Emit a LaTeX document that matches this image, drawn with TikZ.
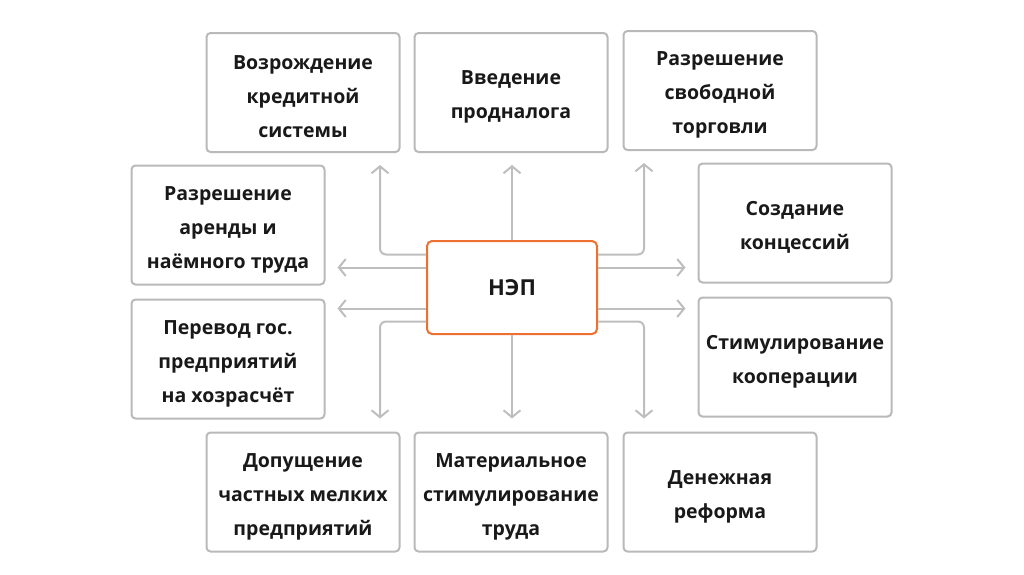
\documentclass[tikz,border=0pt]{standalone}
\usepackage{fontspec}
\setmainfont{Open Sans}
\usetikzlibrary{arrows.meta,positioning}
\definecolor{boxgray}{RGB}{185,185,185}
\definecolor{arrgray}{RGB}{190,190,190}
\definecolor{nepor}{RGB}{236,112,50}
\definecolor{txt}{RGB}{25,25,25}
\newcommand{\topgap}{\rule{0pt}{23pt}}

\tikzset{
  item/.style={draw=boxgray, line width=2pt, rounded corners=4pt, fill=white,
    minimum width=193pt, minimum height=119pt, align=center,
    font=\fontsize{19.5}{34}\selectfont\bfseries, text=txt},
  core/.style={draw=nepor, line width=2pt, rounded corners=5pt, fill=white,
    minimum width=170pt, minimum height=93pt,
    font=\fontsize{22}{26}\selectfont\bfseries, text=txt},
  arr/.style={draw=arrgray, line width=2pt, rounded corners=6pt,
    -{Straight Barb[length=7pt,width=17pt,line width=2pt]}}
}

\begin{document}
\begin{tikzpicture}[x=1pt, y=-1pt]
  \useasboundingbox (0,0) rectangle (1024,574);

  \node[core] (nep) at (512,287.5) {НЭП};

  % top row
  \node[item] (vvd) at (511,92.5) {\topgap Введение\\продналога};
  \node[item, left=13pt of vvd] (krd) {\topgap Возрождение\\кредитной\\системы};
  \node[item, right=14pt of vvd, yshift=2pt] (svt) {\topgap Разрешение\\свободной\\торговли};

  % left and right columns
  \node[item] (arn) at (228,225) {\topgap Разрешение\\аренды и\\наёмного труда};
  \node[item, below=13pt of arn] (prv) {\topgap Перевод гос.\\предприятий\\на хозрасчёт};
  \node[item] (kon) at (795,223) {\topgap Создание\\концессий};
  \node[item, below=13pt of kon] (stm) {\topgap Стимулирование\\кооперации};

  % bottom row
  \node[item] (mat) at (511,492) {\topgap Материальное\\стимулирование\\труда};
  \node[item, left=13pt of mat] (dop) {\topgap Допущение\\частных мелких\\предприятий};
  \node[item, right=14pt of mat] (den) {\topgap Денежная\\реформа};

  \draw[arr, shorten >=12pt] ([yshift=33pt]nep.west) -| ([xshift=77pt]krd.south);
  \draw[arr, shorten >=12pt] (nep.north) -- (nep.north |- vvd.south);
  \draw[arr, shorten >=12pt] ([yshift=33pt]nep.east) -| ([xshift=-76pt]svt.south);
  \draw[arr, shorten >=12pt] ([yshift=20pt]nep.west) -- ([yshift=20pt]nep.west -| arn.east);
  \draw[arr, shorten >=12pt] ([yshift=-21pt]nep.west) -- ([yshift=-21pt]nep.west -| prv.east);
  \draw[arr, shorten >=12pt] ([yshift=20pt]nep.east) -- ([yshift=20pt]nep.east -| kon.west);
  \draw[arr, shorten >=12pt] ([yshift=-21pt]nep.east) -- ([yshift=-21pt]nep.east -| stm.west);
  \draw[arr, shorten >=13pt] ([yshift=-34pt]nep.west) -| ([xshift=77pt]dop.north);
  \draw[arr, shorten >=13pt] (nep.south) -- (nep.south |- mat.north);
  \draw[arr, shorten >=13pt] ([yshift=-34pt]nep.east) -| ([xshift=-76pt]den.north);
\end{tikzpicture}
\end{document}
